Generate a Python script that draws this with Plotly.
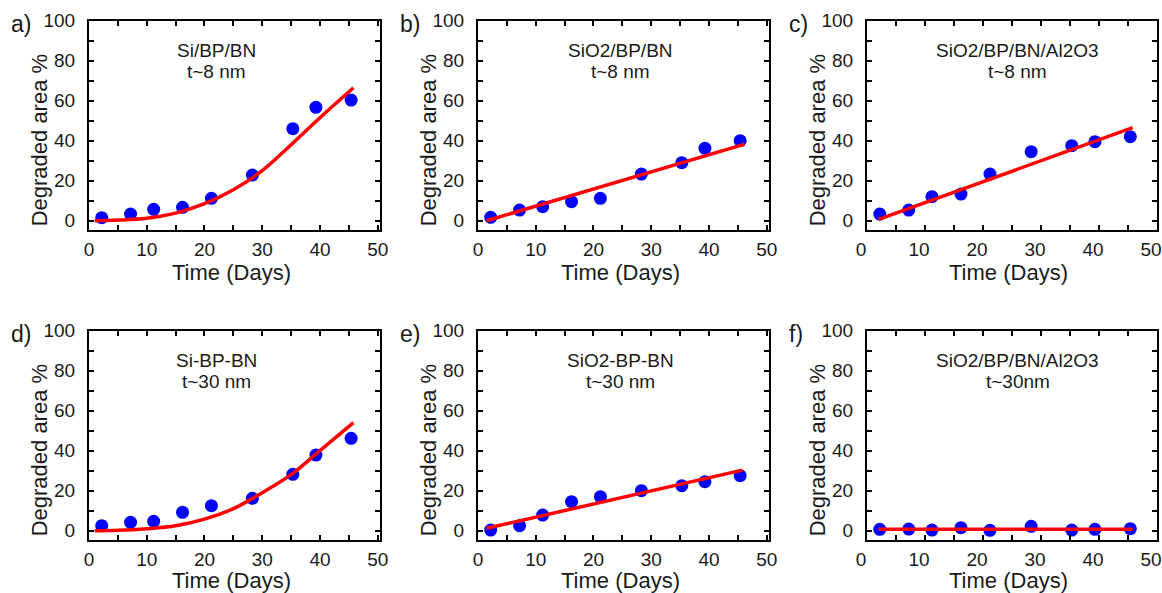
import plotly.graph_objects as go

# ---------------- data ----------------
time_days = [2.2, 7.2, 11.2, 16.2, 21.2, 28.3, 35.3, 39.3, 45.4]

deg_a = [1.5, 3.3, 5.7, 6.7, 11.2, 22.8, 46.0, 56.7, 60.3]
deg_b = [1.7, 5.3, 7.0, 9.5, 11.2, 23.3, 29.0, 36.2, 40.0]
deg_c = [3.3, 5.3, 12.0, 13.3, 23.3, 34.5, 37.5, 39.5, 42.0]
deg_d = [2.5, 4.2, 4.7, 9.2, 12.5, 16.2, 28.2, 37.8, 46.2]
deg_e = [0.3, 2.5, 7.8, 14.5, 17.0, 20.0, 22.5, 24.5, 27.5]
deg_f = [0.7, 0.8, 0.3, 1.5, 0.2, 2.2, 0.3, 0.7, 1.0]

fit_x_a = [1, 5, 10, 15, 20, 25, 30, 35, 40, 45.8]
fit_y_a = [0.0, 0.3, 1.2, 3.8, 8.5, 15.5, 25.0, 38.0, 51.5, 66.5]
fit_x_b = [1.5, 46.2]
fit_y_b = [0.0, 38.3]
fit_x_c = [2.0, 45.8]
fit_y_c = [0.7, 46.5]
fit_x_d = [1, 5, 10, 15, 20, 25, 30, 35, 40, 45.8]
fit_y_d = [0.0, 0.2, 1.0, 2.5, 5.8, 11.0, 19.0, 28.0, 40.0, 54.0]
fit_x_e = [1.5, 45.8]
fit_y_e = [1.2, 30.3]
fit_x_f = [2.0, 45.8]
fit_y_f = [0.7, 0.7]

panel_letters = ["a)", "b)", "c)", "d)", "e)", "f)"]
sample_names = ["Si/BP/BN", "SiO2/BP/BN", "SiO2/BP/BN/Al2O3",
                "Si-BP-BN", "SiO2-BP-BN", "SiO2/BP/BN/Al2O3"]
thickness_labels = ["t~8 nm", "t~8 nm", "t~8 nm", "t~30 nm", "t~30 nm", "t~30nm"]
label_x_pos = [22.1, 24.6, 26.0, 22.0, 24.6, 26.0]

x_title = "Time (Days)"
y_title = "Degraded area %"

degs = [deg_a, deg_b, deg_c, deg_d, deg_e, deg_f]
fits = [(fit_x_a, fit_y_a, "spline"), (fit_x_b, fit_y_b, "linear"), (fit_x_c, fit_y_c, "linear"),
        (fit_x_d, fit_y_d, "spline"), (fit_x_e, fit_y_e, "linear"), (fit_x_f, fit_y_f, "linear")]

# ---------------- layout geometry (pixels) ----------------
W, H = 1162, 593
col_px = [(89, 380), (478, 769), (867, 1157)]
col_xmax = [50.4, 50.4, 50.0]
col_label_shift = [0, 0, -6]
row_px = [(20.7, 230), (330.7, 540)]
TICKLEN = 5

FONT = "Liberation Sans, Arial, sans-serif"
TXT = "#1a1a1a"

def px2x(p):
    return p / W

def px2y(p):
    return 1 - p / H

fig = go.Figure()
annotations = []
layout_axes = {}

for i in range(6):
    r, c = divmod(i, 3)
    n = i + 1
    xs = "" if n == 1 else str(n)
    xa, ya = "x" + xs, "y" + xs
    l, rr = col_px[c]
    t, b = row_px[r]

    fig.add_trace(go.Scatter(
        x=time_days, y=degs[i], mode="markers", xaxis=xa, yaxis=ya,
        marker=dict(color="#0000ff", size=13),
        showlegend=False))
    fx, fy, shape = fits[i]
    fig.add_trace(go.Scatter(
        x=fx, y=fy, mode="lines", xaxis=xa, yaxis=ya,
        line=dict(color="#ff0000", width=3.5, shape=shape),
        showlegend=False, hoverinfo="skip"))

    layout_axes["xaxis" + xs] = dict(
        domain=[px2x(l), px2x(rr)], anchor=ya, range=[0, col_xmax[c]], automargin=False,
        showline=True, linewidth=2.2, linecolor="black", mirror="ticks",
        ticks="inside", ticklen=TICKLEN, tickwidth=1.6, tickcolor="black",
        showgrid=False, zeroline=False, ticklabeloverflow="allow",
        ticklabelshift=col_label_shift[c],
        tickfont=dict(family=FONT, size=19, color=TXT),
        tickmode="linear", tick0=0, dtick=10, ticklabelstandoff=1,
        minor=dict(dtick=5, ticks="inside", ticklen=TICKLEN, tickwidth=1.6, tickcolor="black"))
    layout_axes["yaxis" + xs] = dict(
        domain=[px2y(b), px2y(t)], anchor=xa, range=[-4.65, 100], automargin=False,
        showline=True, linewidth=2.2, linecolor="black", mirror="ticks",
        ticks="inside", ticklen=TICKLEN, tickwidth=1.6, tickcolor="black",
        showgrid=False, zeroline=False,
        tickfont=dict(family=FONT, size=19, color=TXT),
        tickmode="linear", tick0=0, dtick=20, ticklabelstandoff=8,
        minor=dict(dtick=10, ticks="inside", ticklen=TICKLEN, tickwidth=1.6, tickcolor="black"))

    annotations.append(dict(text=panel_letters[i], xref="paper", yref="paper",
                            x=px2x(l - 80), y=px2y(t + 3),
                            xanchor="left", yanchor="middle", showarrow=False,
                            font=dict(family=FONT, size=23, color=TXT)))
    annotations.append(dict(text=sample_names[i], xref=xa, yref="paper",
                            x=label_x_pos[i], y=px2y(t + 30), xanchor="center", yanchor="middle",
                            showarrow=False, font=dict(family=FONT, size=19, color=TXT)))
    annotations.append(dict(text=thickness_labels[i], xref=xa, yref="paper",
                            x=label_x_pos[i], y=px2y(t + 50.5), xanchor="center", yanchor="middle",
                            showarrow=False, font=dict(family=FONT, size=19, color=TXT)))
    annotations.append(dict(text=x_title, xref="paper", yref="paper",
                            x=px2x((l + rr) / 2 - 3), y=px2y(min(b + 43, 580)), xanchor="center",
                            yanchor="middle", showarrow=False,
                            font=dict(family=FONT, size=22, color=TXT)))
    annotations.append(dict(text=y_title, xref="paper", yref="paper", textangle=-90,
                            x=px2x(l - 50), y=px2y((t + b) / 2 + 15), xanchor="center", yanchor="middle",
                            showarrow=False, font=dict(family=FONT, size=22, color=TXT)))

fig.update_layout(
    width=W, height=H, margin=dict(l=0, r=0, t=0, b=0, autoexpand=False),
    paper_bgcolor="white", plot_bgcolor="white",
    annotations=annotations, **layout_axes)

# after plotting, add a practically invisible composited overlay so the
# headless browser repaints the axis frame and tick paths
repaint = """
setTimeout(function(){
 document.querySelectorAll('path.xtick, path.ytick, path.xlines-above, path.ylines-above');
 getComputedStyle(document.body).margin;
 var e=document.createElement('div');
 e.style.cssText='position:fixed;left:0;top:0;width:1162px;height:593px;background:rgba(255,255,255,0.004);pointer-events:none;z-index:99';
 document.body.appendChild(e);
},300);
"""
fig.write_html("out.html", post_script=repaint)
